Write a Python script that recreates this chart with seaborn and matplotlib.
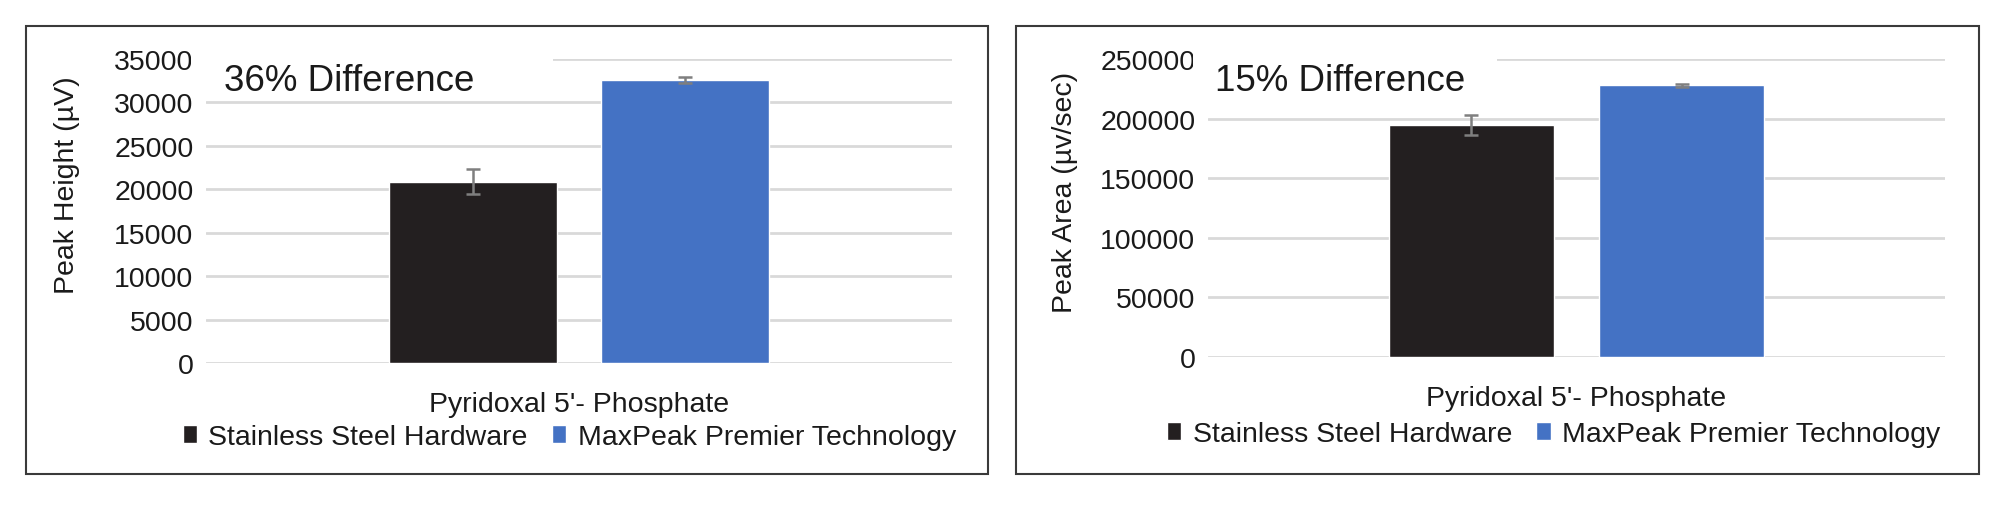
import matplotlib
matplotlib.use("Agg")
import matplotlib.pyplot as plt
from matplotlib.patches import Rectangle
import seaborn as sns
import pandas as pd

# ---- data ----
categories = ["Pyridoxal 5'- Phosphate"]
series = ["Stainless Steel Hardware", "MaxPeak Premier Technology"]
height_values = [20850, 32600]
height_errors = [1440, 380]
area_values = [195000, 228000]
area_errors = [8400, 1300]
height_ticks = [0, 5000, 10000, 15000, 20000, 25000, 30000, 35000]
area_ticks = [0, 50000, 100000, 150000, 200000, 250000]
height_label = "Peak Height (µV)"
area_label = "Peak Area (µv/sec)"
height_note = "36% Difference"
area_note = "15% Difference"

colors = ["#231f20", "#4472c4"]

sns.set_theme(style="white")
plt.rcParams["font.family"] = ["Liberation Sans", "DejaVu Sans"]

W, H = 2000, 506
fig = plt.figure(figsize=(W / 100, H / 100), dpi=100)
fig.patch.set_facecolor("white")


def px_axes(x0, x1, ytop, ybot):
    return fig.add_axes([x0 / W, 1 - ybot / H, (x1 - x0) / W, (ybot - ytop) / H])


def panel(ax, values, errors, ticks, ylabel, note, note_x, note_cover, ylab_xy, leg_xy):
    df = pd.DataFrame({
        "Compound": [categories[0]] * len(series),
        "Series": series,
        "Value": values,
    })
    sns.barplot(data=df, x="Compound", y="Value", hue="Series",
                hue_order=series, palette=colors, width=0.57, gap=0.21,
                errorbar=None, ax=ax, zorder=3, saturation=1)
    # error bars at bar centers
    for cont, v, e in zip(ax.containers, values, errors):
        for p in cont.patches:
            cx = p.get_x() + p.get_width() / 2
            ax.errorbar(cx, v, yerr=e, fmt="none", ecolor="#7f7f7f",
                        elinewidth=1.8, capsize=4.8, capthick=1.8, zorder=4)
    ax.set_ylim(ticks[0], ticks[-1])
    ax.set_yticks(ticks)
    ax.set_yticklabels([str(t) for t in ticks])
    ax.set_xlim(-0.5, 0.5)
    ax.grid(axis="y", color="#d9d9d9", linewidth=2, zorder=0)
    ax.set_axisbelow(True)
    for s in ax.spines.values():
        s.set_visible(False)
    ax.tick_params(axis="y", labelsize=20.5, colors="#1a1a1a", pad=9, length=0)
    ax.tick_params(axis="x", labelsize=20.5, colors="#1a1a1a", pad=20, length=0)
    ax.set_xlabel("")
    ax.set_ylabel(ylabel, fontsize=20.5, color="#1a1a1a")
    ax.yaxis.set_label_coords(*ylab_xy)
    # white text box covering top gridline
    ax.add_patch(Rectangle((-0.02, 0.88), note_cover + 0.02, 0.2, transform=ax.transAxes,
                           facecolor="white", edgecolor="none", zorder=2, clip_on=False))
    ax.text(note_x, 0.928, note, transform=ax.transAxes,
            fontsize=26.5, color="#1a1a1a", ha="left", va="center", zorder=5)
    handles, labels = ax.get_legend_handles_labels()
    ax.legend(handles, labels, ncol=2, loc="center", bbox_to_anchor=leg_xy,
              frameon=False, fontsize=20.5, handlelength=0.5, handleheight=0.6,
              handletextpad=0.4, columnspacing=0.85, borderaxespad=0)
    for t in ax.get_legend().get_texts():
        t.set_color("#1a1a1a")


ax1 = px_axes(206, 952, 60, 364)
panel(ax1, height_values, height_errors, height_ticks, height_label, height_note,
      0.024, 0.465, (-0.169, 0.589), (0.487, -0.243))

ax2 = px_axes(1208, 1945, 60, 358)
panel(ax2, area_values, area_errors, area_ticks, area_label, area_note,
      0.01, 0.392, (-0.176, 0.557), (0.469, -0.258))

# outer frames
for (x0, x1) in [(26, 988), (1016, 1979)]:
    fig.add_artist(Rectangle((x0 / W, 1 - 475 / H), (x1 - x0) / W, (475 - 27) / H,
                             transform=fig.transFigure, fill=False,
                             edgecolor="#3a3a3a", linewidth=1.5))

fig.savefig("out.png", dpi=100, facecolor="white")
